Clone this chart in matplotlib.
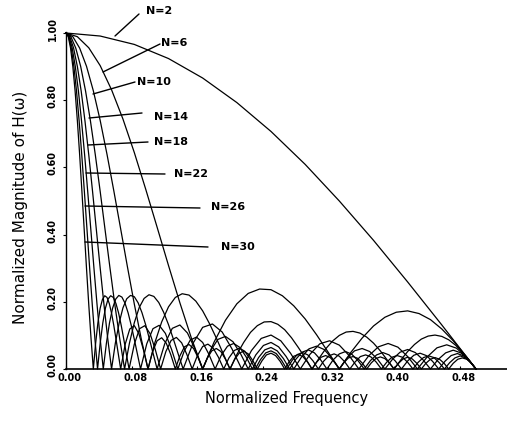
import matplotlib
matplotlib.use("Agg")
import matplotlib.pyplot as plt
import matplotlib.transforms as mtransforms
import numpy as np

# magnitude, one list per filter length N
# N=2, 6, 10: evenly spaced from f = 0 to f = 0.5
mag_n2 = [1.000, 0.991, 0.966, 0.924, 0.866, 0.793, 0.707, 0.609, 0.500, 0.383, 0.259, 0.131, 0.000]

mag_n6 = [1.000, 0.989, 0.956, 0.903, 0.831, 0.744, 0.644, 0.535, 0.422, 0.308, 0.197, 0.093, 0.000,
          0.080, 0.145, 0.194, 0.225, 0.238, 0.236, 0.218, 0.188, 0.149, 0.102, 0.051, 0.000,
          0.049, 0.092, 0.128, 0.154, 0.169, 0.173, 0.165, 0.147, 0.119, 0.084, 0.043, 0.000]

mag_n10 = [1.000, 0.989, 0.955, 0.901, 0.828, 0.740, 0.639, 0.530, 0.417, 0.303, 0.193, 0.091, 0.000,
           0.078, 0.140, 0.185, 0.213, 0.224, 0.220, 0.202, 0.173, 0.135, 0.092, 0.046, 0.000,
           0.043, 0.079, 0.109, 0.129, 0.140, 0.141, 0.133, 0.117, 0.093, 0.064, 0.033, 0.000,
           0.031, 0.060, 0.083, 0.100, 0.110, 0.112, 0.107, 0.095, 0.077, 0.054, 0.027, 0.000,
           0.027, 0.052, 0.073, 0.089, 0.098, 0.101, 0.097, 0.087, 0.071, 0.050, 0.026, 0.000]

# N=14..30: main lobe + first sidelobe read finer (f = 0 .. 2/N), the rest coarser (2/N .. 0.5)
head_n14 = [1.000, 0.989, 0.955, 0.901, 0.828, 0.739, 0.638, 0.529, 0.415, 0.302, 0.192, 0.091, 0.000,
            0.077, 0.138, 0.183, 0.210, 0.221, 0.216, 0.198, 0.169, 0.132, 0.089, 0.044, 0.000]
tail_n14 = [0.076, 0.124, 0.134, 0.110, 0.060, 0.000,
            0.055, 0.091, 0.101, 0.084, 0.047, 0.000,
            0.044, 0.075, 0.084, 0.071, 0.040, 0.000,
            0.039, 0.066, 0.076, 0.065, 0.037, 0.000,
            0.036, 0.063, 0.072, 0.062, 0.036, 0.000]

head_n18 = [1.000, 0.989, 0.955, 0.900, 0.827, 0.738, 0.637, 0.528, 0.414, 0.301, 0.192, 0.090, 0.000,
            0.077, 0.137, 0.182, 0.209, 0.219, 0.215, 0.197, 0.168, 0.131, 0.088, 0.044, 0.000]
tail_n18 = [0.075, 0.121, 0.131, 0.107, 0.059, 0.000,
            0.053, 0.088, 0.097, 0.081, 0.045, 0.000,
            0.042, 0.070, 0.079, 0.066, 0.037, 0.000,
            0.035, 0.060, 0.068, 0.058, 0.033, 0.000,
            0.032, 0.054, 0.061, 0.052, 0.030, 0.000,
            0.029, 0.050, 0.058, 0.049, 0.028, 0.000,
            0.028, 0.048, 0.056, 0.048, 0.028, 0.000]

head_n22 = [1.000, 0.989, 0.955, 0.900, 0.827, 0.738, 0.637, 0.527, 0.414, 0.300, 0.191, 0.090, 0.000,
            0.076, 0.137, 0.181, 0.208, 0.219, 0.214, 0.196, 0.167, 0.130, 0.088, 0.044, 0.000]
tail_n22 = [0.075, 0.120, 0.130, 0.106, 0.058, 0.000,
            0.052, 0.086, 0.095, 0.079, 0.044, 0.000,
            0.041, 0.068, 0.076, 0.064, 0.036, 0.000,
            0.034, 0.057, 0.064, 0.054, 0.031, 0.000,
            0.029, 0.050, 0.057, 0.048, 0.027, 0.000,
            0.027, 0.045, 0.052, 0.044, 0.025, 0.000,
            0.025, 0.042, 0.049, 0.042, 0.024, 0.000,
            0.024, 0.041, 0.047, 0.040, 0.023, 0.000,
            0.023, 0.040, 0.046, 0.039, 0.023, 0.000]

head_n26 = [1.000, 0.989, 0.955, 0.900, 0.827, 0.738, 0.637, 0.527, 0.414, 0.300, 0.191, 0.090, 0.000,
            0.076, 0.137, 0.181, 0.208, 0.218, 0.213, 0.195, 0.167, 0.130, 0.088, 0.043, 0.000]
tail_n26 = [0.074, 0.120, 0.129, 0.105, 0.057, 0.000,
            0.052, 0.085, 0.094, 0.078, 0.043, 0.000,
            0.040, 0.067, 0.074, 0.062, 0.035, 0.000,
            0.033, 0.055, 0.062, 0.053, 0.030, 0.000,
            0.028, 0.048, 0.054, 0.046, 0.026, 0.000,
            0.025, 0.043, 0.049, 0.042, 0.024, 0.000,
            0.023, 0.039, 0.045, 0.038, 0.022, 0.000,
            0.021, 0.037, 0.042, 0.036, 0.021, 0.000,
            0.020, 0.035, 0.040, 0.035, 0.020, 0.000,
            0.020, 0.034, 0.039, 0.034, 0.019, 0.000,
            0.019, 0.033, 0.039, 0.033, 0.019, 0.000]

head_n30 = [1.000, 0.989, 0.955, 0.900, 0.827, 0.738, 0.637, 0.527, 0.414, 0.300, 0.191, 0.090, 0.000,
            0.076, 0.137, 0.181, 0.207, 0.218, 0.213, 0.195, 0.166, 0.129, 0.087, 0.043, 0.000]
tail_n30 = [0.074, 0.119, 0.129, 0.105, 0.057, 0.000,
            0.051, 0.084, 0.093, 0.077, 0.043, 0.000,
            0.039, 0.066, 0.073, 0.061, 0.034, 0.000,
            0.032, 0.054, 0.061, 0.052, 0.029, 0.000,
            0.028, 0.047, 0.053, 0.045, 0.025, 0.000,
            0.024, 0.042, 0.047, 0.040, 0.023, 0.000,
            0.022, 0.038, 0.043, 0.037, 0.021, 0.000,
            0.020, 0.035, 0.040, 0.034, 0.019, 0.000,
            0.019, 0.033, 0.037, 0.032, 0.018, 0.000,
            0.018, 0.031, 0.036, 0.031, 0.018, 0.000,
            0.017, 0.030, 0.035, 0.030, 0.017, 0.000,
            0.017, 0.029, 0.034, 0.029, 0.017, 0.000,
            0.017, 0.029, 0.033, 0.029, 0.017, 0.000]

# frequency where the finer reading stops (second null)
split_f = [2 / 14, 2 / 18, 2 / 22, 2 / 26, 2 / 30]
heads = [head_n14, head_n18, head_n22, head_n26, head_n30]
tails = [tail_n14, tail_n18, tail_n22, tail_n26, tail_n30]

curve_labels = ['N=2', 'N=6', 'N=10', 'N=14', 'N=18', 'N=22', 'N=26', 'N=30']

x_ticks = [0.00, 0.08, 0.16, 0.24, 0.32, 0.40, 0.48]
x_ticklabels = ['0.00', '0.08', '0.16', '0.24', '0.32', '0.40', '0.48']
y_ticks = [0.0, 0.2, 0.4, 0.6, 0.8, 1.0]
y_ticklabels = ['0.00', '0.20', '0.40', '0.60', '0.80', '1.00']

W, H = 507, 421
fig = plt.figure(figsize=(W / 100, H / 100), dpi=100)
ax = fig.add_axes([66 / W, (H - 369) / H, (W - 66) / W, (369 - 32) / H])

for mag in [mag_n2, mag_n6, mag_n10]:
    f = np.linspace(0, 0.5, len(mag))
    ax.plot(f, mag, color='black', lw=0.9, clip_on=False)

for fs, head, tail in zip(split_f, heads, tails):
    f = np.concatenate([np.linspace(0, fs, len(head)),
                        np.linspace(fs, 0.5, len(tail) + 1)[1:]])
    ax.plot(f, head + tail, color='black', lw=0.9, clip_on=False)

ax.set_xlim(0, 441 / 820)
ax.set_ylim(0, 1.003)
ax.spines['top'].set_visible(False)
ax.spines['right'].set_visible(False)
ax.spines['left'].set_linewidth(1.0)
ax.spines['bottom'].set_linewidth(1.2)

ax.set_xticks(x_ticks)
ax.set_xticklabels(x_ticklabels, fontsize=7, fontweight='bold')
ax.set_yticks(y_ticks)
ax.set_yticklabels(y_ticklabels, fontsize=7, fontweight='bold', rotation=90, va='center')
ax.tick_params(axis='x', direction='in', length=2.5, pad=3)
ax.tick_params(axis='y', direction='out', length=2, pad=4)

# the scanned tick labels sit a little off their ticks
for lab in ax.get_xticklabels():
    lab.set_transform(lab.get_transform() + mtransforms.ScaledTranslation(4 / 100, 0, fig.dpi_scale_trans))
for lab in ax.get_yticklabels():
    lab.set_transform(lab.get_transform() + mtransforms.ScaledTranslation(0, 4 / 100, fig.dpi_scale_trans))

fig.text(21 / W, 1 - 207 / H, 'Normalized Magnitude of H(\u03c9)', rotation=90,
         ha='center', va='center', fontsize=11)
fig.text(287 / W, 1 - 399 / H, 'Normalized Frequency', ha='center', va='center', fontsize=10.5)

# labels with leader lines (image pixel positions, y from top)
label_pos = [(146, 11, 139, 14, 115, 36),
             (161, 43, 160, 44, 103, 72),
             (137, 82, 135, 82, 93, 94),
             (154, 117, 142, 113, 89, 118),
             (154, 142, 148, 142, 88, 145),
             (174, 174, 165, 174, 86, 173),
             (211, 207, 200, 208, 85, 206),
             (221, 247, 208, 247, 85, 242)]
for text, (tx, ty, x0, y0, x1, y1) in zip(curve_labels, label_pos):
    ax.annotate('', xy=(x1, H - y1), xytext=(x0, H - y0), xycoords='figure pixels',
                textcoords='figure pixels',
                arrowprops=dict(arrowstyle='-', lw=1.0, color='black', shrinkA=0, shrinkB=0))
    fig.text(tx / W, 1 - ty / H, text, ha='left', va='center', fontsize=8, fontweight='bold')

fig.savefig('out.png', dpi=100)
